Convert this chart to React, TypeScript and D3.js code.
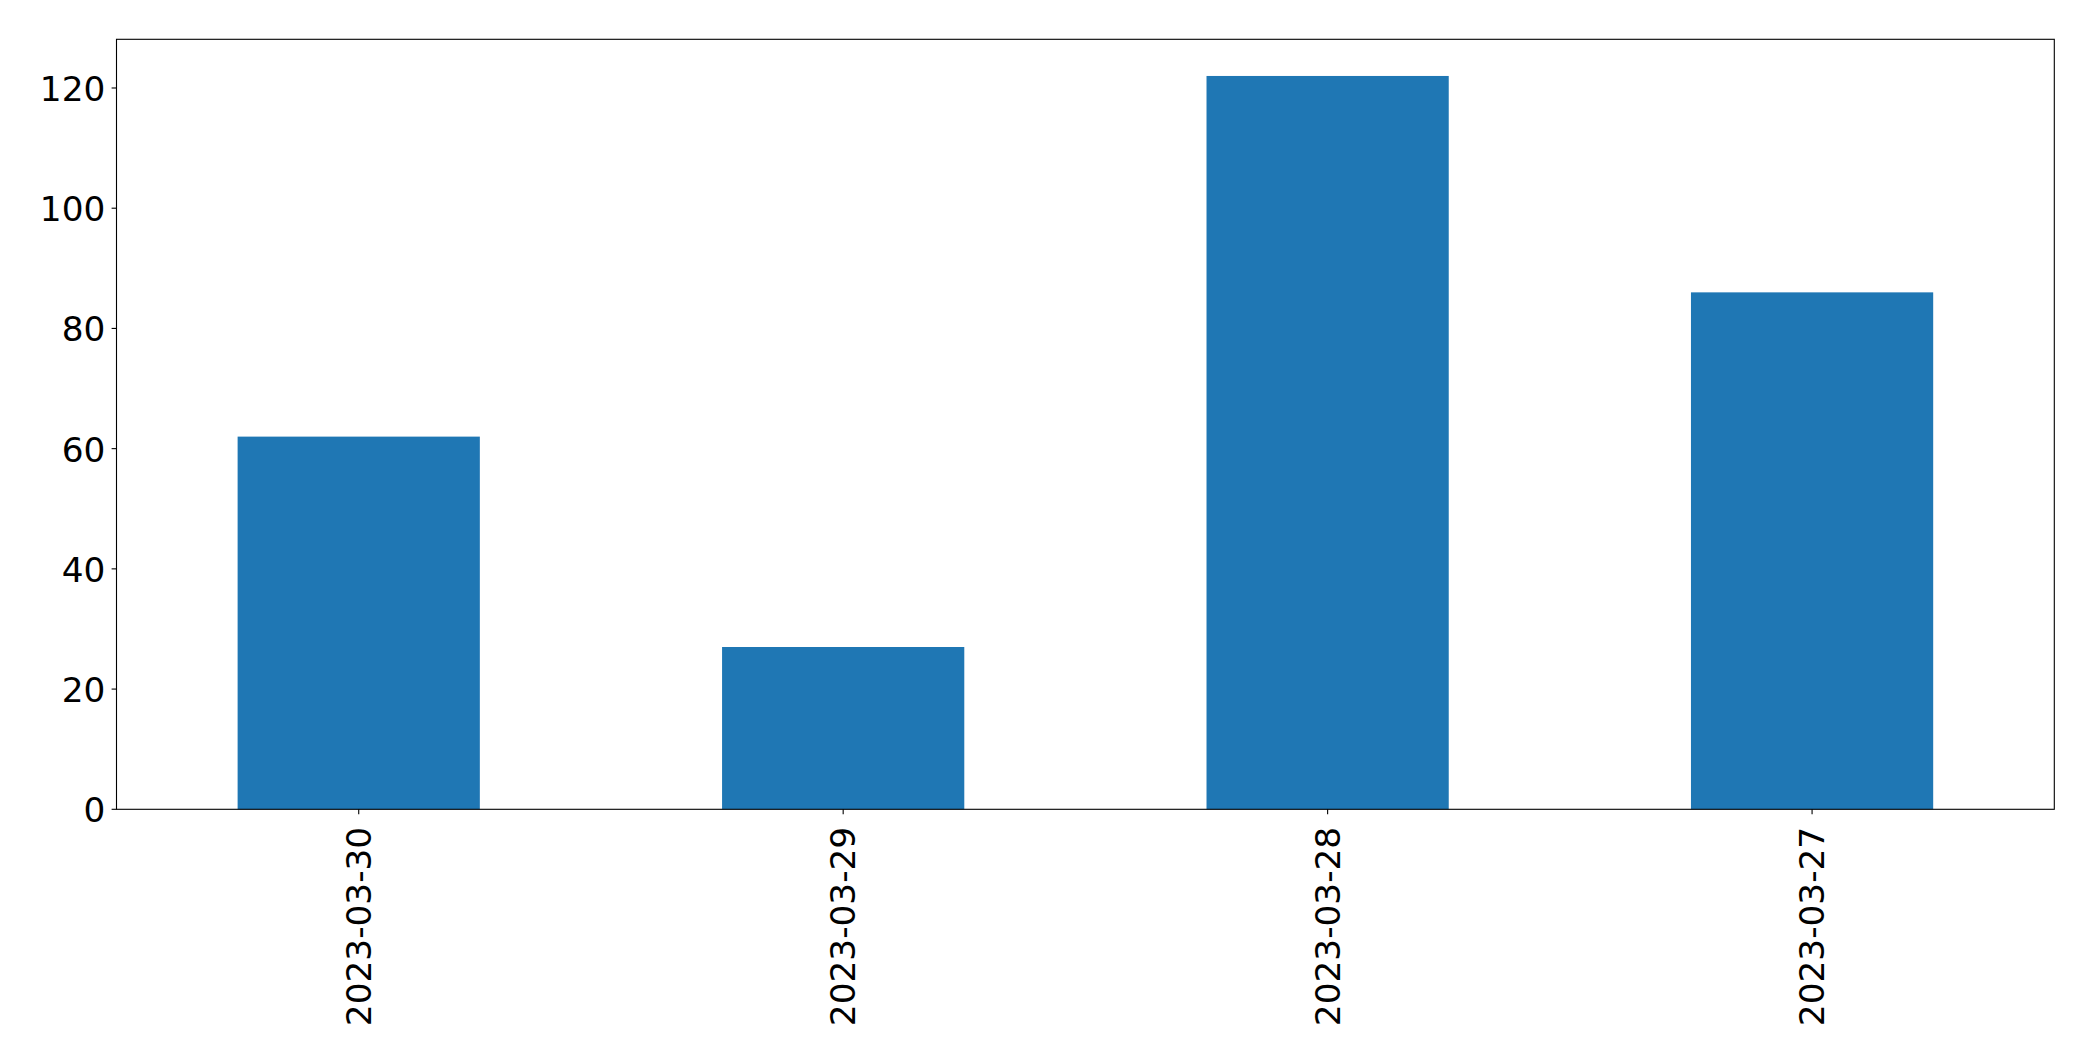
import React from "react";
import * as d3 from "d3";

const categories = ["2023-03-30", "2023-03-29", "2023-03-28", "2023-03-27"];
const values = [62, 27, 122, 86];
const yTicks = [0, 20, 40, 60, 80, 100, 120];

const W = 2093;
const H = 1061;
const M = { left: 116.5, top: 39.3, right: 2054.3, bottom: 809.3 };
const FONT = "DejaVu Sans, sans-serif";
const FS = 34.3;

export default function App() {
  const x = d3
    .scaleLinear()
    .domain([-0.5, categories.length - 0.5])
    .range([M.left, M.right]);
  const yMax = d3.max(values)! * 1.05;
  const y = d3.scaleLinear().domain([0, yMax]).range([M.bottom, M.top]);
  const bw = x(0.25) - x(-0.25);

  return (
    <div style={{ position: "fixed", left: 0, top: 0 }}>
      <svg width={W} height={H} style={{ display: "block", background: "#fff" }}>
        {values.map((v, i) => (
          <rect
            key={i}
            x={x(i) - bw / 2}
            y={y(v)}
            width={bw}
            height={y(0) - y(v)}
            fill="#1f77b4"
          />
        ))}
        <rect
          x={M.left}
          y={M.top}
          width={M.right - M.left}
          height={M.bottom - M.top}
          fill="none"
          stroke="#000"
          strokeWidth={1.1}
        />
        {yTicks.map((t) => (
          <g key={t}>
            <line x1={M.left - 4.9} x2={M.left} y1={y(t)} y2={y(t)} stroke="#000" strokeWidth={1.1} />
            <text
              x={M.left - 11.2}
              y={y(t) + 1}
              textAnchor="end"
              dominantBaseline="central"
              fontFamily={FONT}
              fontSize={FS}
              fill="#000"
            >
              {t}
            </text>
          </g>
        ))}
        {categories.map((c, i) => (
          <g key={c}>
            <line x1={x(i)} x2={x(i)} y1={M.bottom} y2={M.bottom + 4.9} stroke="#000" strokeWidth={1.1} />
            <text
              transform={`translate(${x(i)},${M.bottom + 17.5}) rotate(-90)`}
              textAnchor="end"
              dominantBaseline="central"
              fontFamily={FONT}
              fontSize={FS}
              fill="#000"
            >
              {c}
            </text>
          </g>
        ))}
      </svg>
    </div>
  );
}
